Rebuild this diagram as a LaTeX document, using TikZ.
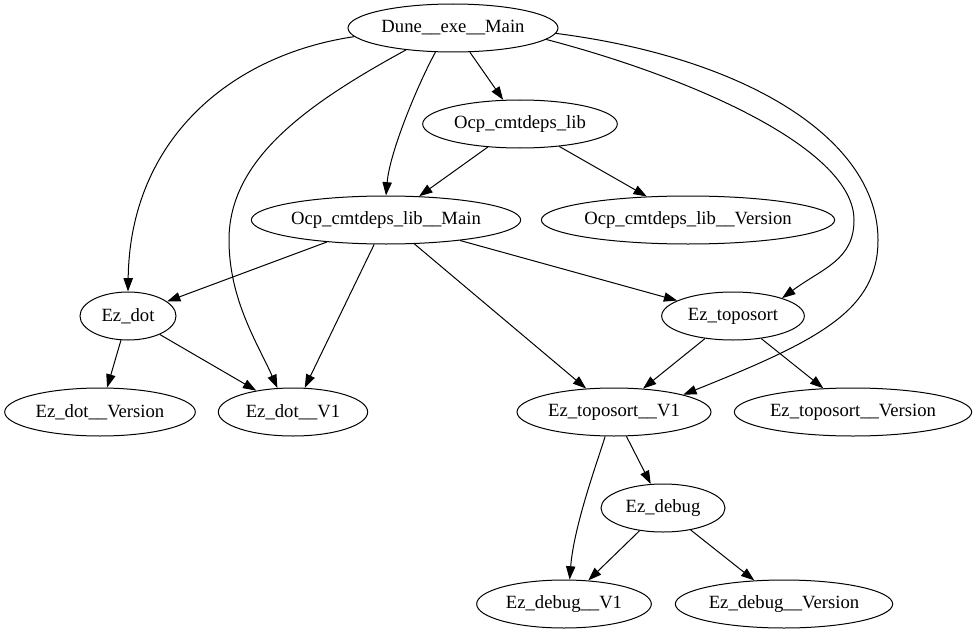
\documentclass[tikz,border=0pt]{standalone}
\usepackage{fontspec}
\setmainfont{Liberation Serif}
\usetikzlibrary{shapes.geometric,arrows.meta}

\tikzset{
  module/.style={draw,ellipse,inner sep=0pt,line width=0.75pt,minimum height=36pt,
    font=\fontsize{14pt}{16pt}\selectfont},
  dep/.style={-{Triangle[length=10pt,width=7pt]},line width=0.75pt}
}

\begin{document}
\begin{tikzpicture}
[x=0.75pt,y=-0.75pt]
  \useasboundingbox (0,0) rectangle (978,635);

  % modules, one rank per row
  \node[module,minimum width=157.5pt] (dune)      at (453,28)  {Dune\_\_exe\_\_Main};
  \node[module,minimum width=146pt]   (ocplib)    at (520,124) {Ocp\_cmtdeps\_lib};
  \node[module,minimum width=202pt]   (ocpmain)   at (386,220) {Ocp\_cmtdeps\_lib\_\_Main};
  \node[module,minimum width=217.5pt] (ocpver)    at (688,220) {Ocp\_cmtdeps\_lib\_\_Version};
  \node[module,minimum width=72pt]    (ezdot)     at (128,316) {Ez\_dot};
  \node[module,minimum width=107pt]   (eztopo)    at (733,316) {Ez\_toposort};
  \node[module,minimum width=143pt]   (ezdotver)  at (100,412) {Ez\_dot\_\_Version};
  \node[module,minimum width=112pt]   (ezdotvone) at (293,412) {Ez\_dot\_\_V1};
  \node[module,minimum width=145.5pt] (eztopovone) at (614,412) {Ez\_toposort\_\_V1};
  \node[module,minimum width=178pt]   (eztopover) at (853,412) {Ez\_toposort\_\_Version};
  \node[module,minimum width=93pt]    (ezdebug)   at (663,508) {Ez\_debug};
  \node[module,minimum width=131pt]   (ezdebugvone) at (564,604) {Ez\_debug\_\_V1};
  \node[module,minimum width=163pt]   (ezdebugver) at (784,604) {Ez\_debug\_\_Version};

  % straight dependencies
  \draw[dep] (dune) -- (ocplib);
  \draw[dep] (ocplib) -- (ocpmain);
  \draw[dep] (ocplib) -- (ocpver);
  \draw[dep] (ocpmain) -- (ezdot);
  \draw[dep] (ocpmain) -- (ezdotvone);
  \draw[dep] (ocpmain) -- (eztopovone);
  \draw[dep] (ocpmain) -- (eztopo);
  \draw[dep] (ezdot) -- (ezdotver);
  \draw[dep] (ezdot) -- (ezdotvone);
  \draw[dep] (eztopo) -- (eztopovone);
  \draw[dep] (eztopo) -- (eztopover);
  \draw[dep] (eztopovone) -- (ezdebug);
  \draw[dep] (ezdebug) -- (ezdebugvone);
  \draw[dep] (ezdebug) -- (ezdebugver);

  % curved ones, around the other nodes
  \draw[dep] (dune.185) .. controls (230,55) and (130,140) .. (ezdot.north);
  \draw[dep] (dune.205) .. controls (305,105) and (229,160) .. (229,240)
    .. controls (229,300) and (258,344) .. (ezdotvone.123);
  \draw[dep] (dune.234) .. controls (420,80) and (390,150) .. (ocpmain.north);
  \draw[dep] (dune.-7) .. controls (697,79) and (854,150) .. (854,220)
    .. controls (854,260) and (823,268) .. (eztopo.20);
  \draw[dep] (dune.-3) .. controls (748,58) and (878,140) .. (878,240)
    .. controls (878,310) and (820,340) .. (eztopovone.14);
  \draw[dep] (eztopovone.250) .. controls (598,460) and (574,525) .. (ezdebugvone.77);
\end{tikzpicture}
\end{document}
